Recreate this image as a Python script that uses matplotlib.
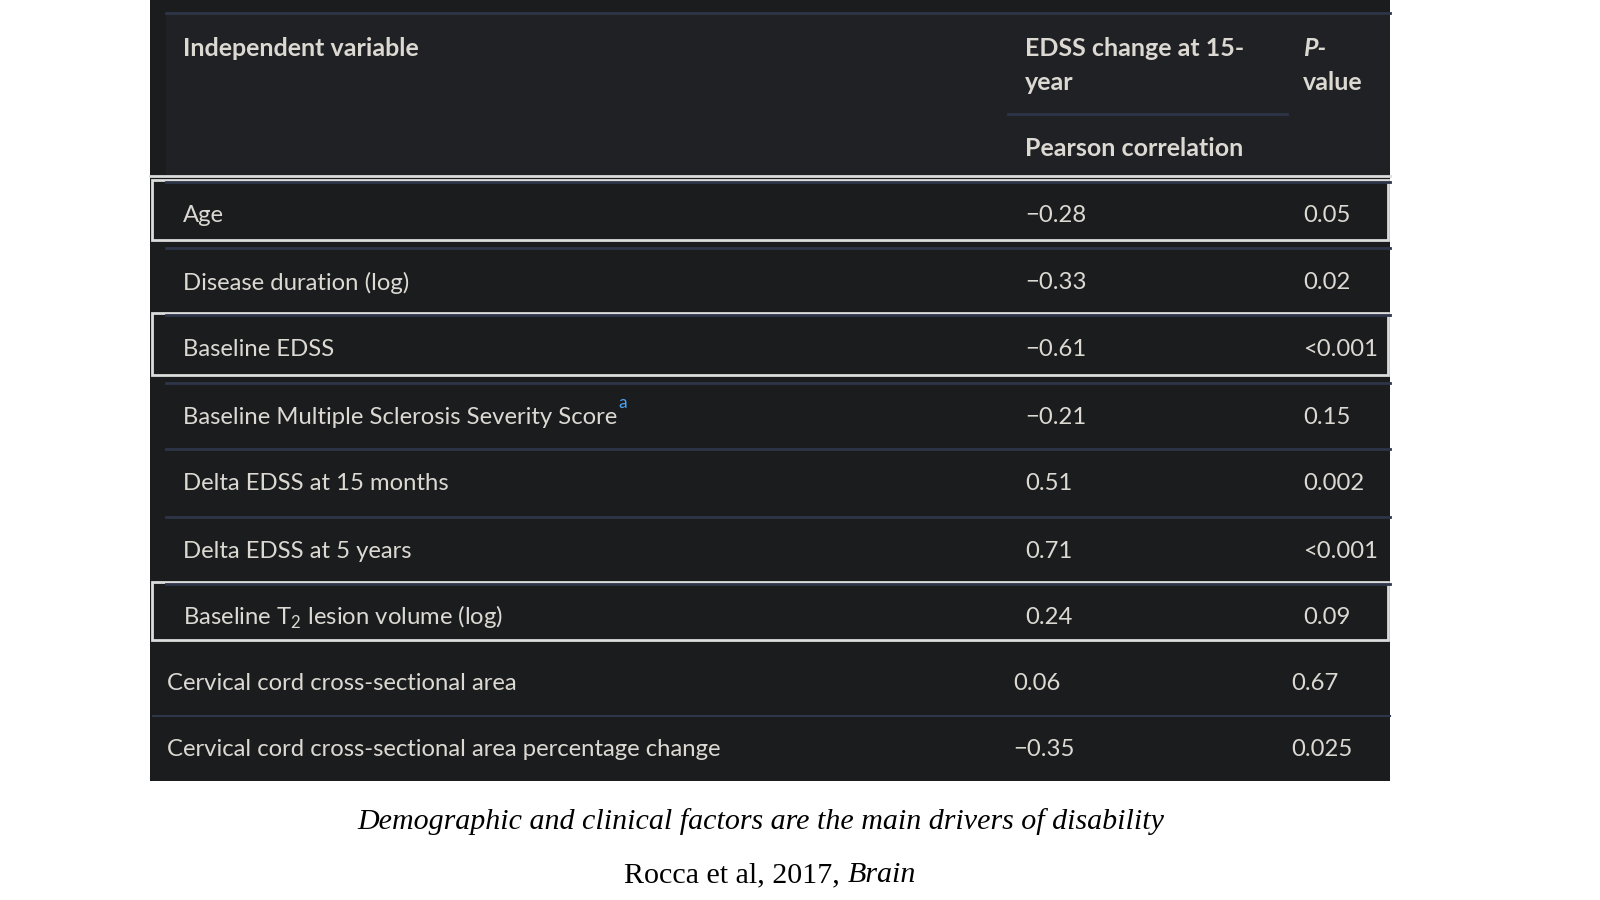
import matplotlib
matplotlib.use("Agg")
import matplotlib.pyplot as plt
from matplotlib.patches import Rectangle

plt.rcParams["font.family"] = ["Lato", "DejaVu Sans"]
plt.rcParams["mathtext.fontset"] = "custom"
plt.rcParams["mathtext.rm"] = "Lato"

# table data
variables = [
    "Age",
    "Disease duration (log)",
    "Baseline EDSS",
    "Baseline Multiple Sclerosis Severity Score",
    "Delta EDSS at 15 months",
    "Delta EDSS at 5 years",
    "Baseline T$_\\mathregular{2}$ lesion volume (log)",
    "Cervical cord cross-sectional area",
    "Cervical cord cross-sectional area percentage change",
]
pearson = ["\u22120.28", "\u22120.33", "\u22120.61", "\u22120.21", "0.51", "0.71", "0.24", "0.06", "\u22120.35"]
p_values = ["0.05", "0.02", "<0.001", "0.15", "0.002", "<0.001", "0.09", "0.67", "0.025"]
footnote_row = 3
boxed_rows = [0, 2, 6]
pasted_rows = [7, 8]  # last two rows come from another source, less indent

caption = "Demographic and clinical factors are the main drivers of disability"
citation_a = "Rocca et al, 2017, "
citation_b = "Brain"

# layout (pixels)
row_edges = [182, 248, 315, 383, 449, 517, 584, 648, 716, 781]
left, right = 150, 1390
bg_body = "#1b1c1e"
bg_head = "#202124"
blue_line = "#2e3548"
white_line = "#dcdcdc"
txt = "#dcd9d3"
fs = 17.2
fs_head = 18

fig = plt.figure(figsize=(16, 9), dpi=100)
ax = fig.add_axes([0, 0, 1, 1])
ax.set_xlim(0, 1600)
ax.set_ylim(900, 0)
ax.axis("off")

# backgrounds
ax.add_patch(Rectangle((left, 0), right - left, row_edges[-1], color=bg_body, lw=0))
ax.add_patch(Rectangle((166, 13), right - 166, 163, color=bg_head, lw=0))
ax.plot([166, right], [13, 13], color=blue_line, lw=2)
ax.plot([left, right], [176, 176], color=white_line, lw=2)

# header
ax.text(183, 49, "Independent variable", color=txt, fontsize=fs_head, fontweight="bold", va="center")
ax.text(1025, 49, "EDSS change at 15-", color=txt, fontsize=fs_head, fontweight="bold", va="center")
ax.text(1025, 83, "year", color=txt, fontsize=fs_head, fontweight="bold", va="center")
ax.plot([1008, 1287], [114, 114], color=blue_line, lw=2)
ax.text(1025, 149, "Pearson correlation", color=txt, fontsize=fs_head, fontweight="bold", va="center")
ax.text(1303, 49, "P-", color=txt, fontsize=fs_head, fontweight="bold", fontstyle="italic", va="center")
ax.text(1303, 83, "value", color=txt, fontsize=fs_head, fontweight="bold", va="center")

renderer = fig.canvas.get_renderer()
for i, name in enumerate(variables):
    top, bottom = row_edges[i], row_edges[i + 1]
    yc = (top + bottom) / 2 + 1
    if i in pasted_rows:
        x0, x1, x2 = 167, 1013, 1291
        if i > pasted_rows[0]:
            ax.plot([153, right], [top, top], color=blue_line, lw=1.5)
    else:
        x0, x1, x2 = 183, 1025, 1303
        ax.plot([166, right], [top, top], color=blue_line, lw=2)
    if i in boxed_rows:
        ax.add_patch(Rectangle((152, top - 2), right - 154, bottom - top - 6,
                               fill=False, ec=white_line, lw=2))
    t = ax.text(x0, yc, name, color=txt, fontsize=fs, va="center")
    ax.text(x1, yc, pearson[i], color=txt, fontsize=fs, va="center")
    ax.text(x2, yc, p_values[i], color=txt, fontsize=fs, va="center")
    if i == footnote_row:
        bb = t.get_window_extent(renderer).transformed(ax.transData.inverted())
        ax.text(bb.x1 + 1, yc - 14, "a", color="#4aa3f5", fontsize=12.5, va="center")

# caption
ax.text(761, 822, caption, fontsize=21.6, fontstyle="italic", family="Liberation Serif",
        ha="center", va="center", color="black")
c1 = ax.text(770, 875, citation_a, fontsize=21.6, family="Liberation Serif",
             ha="right", va="center", color="black")
c2 = ax.text(770, 875, citation_b, fontsize=21.6, family="Liberation Serif", fontstyle="italic",
             ha="left", va="center", color="black")
w1 = c1.get_window_extent(renderer).width
w2 = c2.get_window_extent(renderer).width
shift = (w1 - w2) / 2
c1.set_x(770 + shift)
c2.set_x(770 + shift)

fig.savefig("out.png", dpi=100, facecolor="white")
